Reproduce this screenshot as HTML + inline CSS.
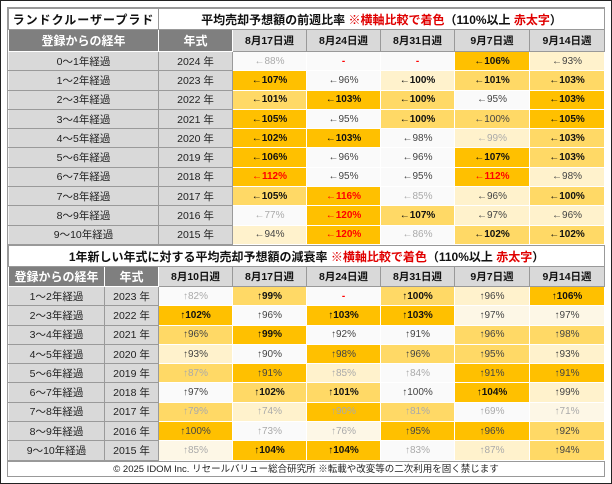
<!DOCTYPE html>
<html><head><meta charset="utf-8"><style>
*{box-sizing:border-box;margin:0;padding:0}
body{width:612px;height:484px;background:#fff;font-family:"Liberation Sans","Noto Sans CJK JP",sans-serif;position:relative;overflow:hidden}
.frame{position:absolute;left:0;top:0;width:612px;height:484px;border:1px solid #222}
.wrap{position:absolute;left:7px;top:7px;width:598px;height:470px;border:1px solid #999;background:#fff}
table{position:absolute;left:0;border-collapse:collapse;table-layout:fixed;width:596px}
td{border:1px solid #fff;text-align:center;vertical-align:middle;font-size:10px;white-space:nowrap;overflow:hidden;padding:0}
tr.r td{height:19.3px}
.lab{background:#d9d9d9;color:#222;font-size:10.5px;border-color:#f2f2f2 #9a9a9a #9a9a9a #f2f2f2}
.hd td.h{background:#7f7f7f;color:#fff;font-weight:bold;font-size:12px}
.hd td.dt{background:#d9d9d9;color:#111;font-weight:bold;font-size:10.5px;border:1px solid #999}
.tl{font-weight:bold;font-size:12px;color:#111;border:1px solid #999!important;background:#fff}
.red{color:#e00000}
.d{background:#ffc000}.m{background:#ffd966}.l{background:#fff2cc}.v{background:#fdf7e6}.w{background:#fafafa}
.b{font-weight:bold;color:#111}.n{color:#444}.g{color:#aaa}.x{font-weight:bold;color:#f00}
.foot{position:absolute;left:0;top:453px;width:596px;height:16px;border-top:1px solid #999;font-size:9.5px;color:#222;text-align:center;line-height:15px}
</style></head><body>
<div class="frame"></div>
<div class="wrap">
<table style="top:0">
<colgroup><col style="width:150px"><col style="width:74px"><col style="width:74px"><col style="width:74px"><col style="width:74px"><col style="width:75px"><col style="width:75px"></colgroup>
<tr><td class="tl" style="height:21px;letter-spacing:1px">ランドクルーザープラド</td><td class="tl" colspan="6" style="height:21px">平均売却予想額の前週比率 <span class="red">※横軸比較で着色</span>（110%以上 <span class="red">赤太字</span>）</td></tr>
<tr class="hd"><td class="h" style="height:22px">登録からの経年</td><td class="h">年式</td><td class="dt">8月17日週</td><td class="dt">8月24日週</td><td class="dt">8月31日週</td><td class="dt">9月7日週</td><td class="dt">9月14日週</td></tr>
<tr class="r"><td class="lab">0～1年経過</td><td class="lab">2024 年</td><td class="w g">←88%</td><td class="w x">-</td><td class="w x">-</td><td class="d b">←106%</td><td class="l n">←93%</td></tr>
<tr class="r"><td class="lab">1～2年経過</td><td class="lab">2023 年</td><td class="d b">←107%</td><td class="w n">←96%</td><td class="l b">←100%</td><td class="m b">←101%</td><td class="m b">←103%</td></tr>
<tr class="r"><td class="lab">2～3年経過</td><td class="lab">2022 年</td><td class="m b">←101%</td><td class="d b">←103%</td><td class="m b">←100%</td><td class="w n">←95%</td><td class="d b">←103%</td></tr>
<tr class="r"><td class="lab">3～4年経過</td><td class="lab">2021 年</td><td class="d b">←105%</td><td class="w n">←95%</td><td class="m b">←100%</td><td class="m n">←100%</td><td class="d b">←105%</td></tr>
<tr class="r"><td class="lab">4～5年経過</td><td class="lab">2020 年</td><td class="d b">←102%</td><td class="d b">←103%</td><td class="w n">←98%</td><td class="l g">←99%</td><td class="m b">←103%</td></tr>
<tr class="r"><td class="lab">5～6年経過</td><td class="lab">2019 年</td><td class="d b">←106%</td><td class="w n">←96%</td><td class="w n">←96%</td><td class="d b">←107%</td><td class="m b">←103%</td></tr>
<tr class="r"><td class="lab">6～7年経過</td><td class="lab">2018 年</td><td class="d x">←112%</td><td class="w n">←95%</td><td class="w n">←95%</td><td class="d x">←112%</td><td class="l n">←98%</td></tr>
<tr class="r"><td class="lab">7～8年経過</td><td class="lab">2017 年</td><td class="m b">←105%</td><td class="d x">←116%</td><td class="w g">←85%</td><td class="l n">←96%</td><td class="m b">←100%</td></tr>
<tr class="r"><td class="lab">8～9年経過</td><td class="lab">2016 年</td><td class="w g">←77%</td><td class="d x">←120%</td><td class="m b">←107%</td><td class="l n">←97%</td><td class="l n">←96%</td></tr>
<tr class="r"><td class="lab">9～10年経過</td><td class="lab">2015 年</td><td class="l n">←94%</td><td class="d x">←120%</td><td class="w g">←86%</td><td class="m b">←102%</td><td class="m b">←102%</td></tr>
</table>
<table style="top:237px">
<colgroup><col style="width:96px"><col style="width:54px"><col style="width:74px"><col style="width:74px"><col style="width:74px"><col style="width:74px"><col style="width:75px"><col style="width:75px"></colgroup>
<tr><td class="tl" colspan="8" style="height:21px">1年新しい年式に対する平均売却予想額の減衰率 <span class="red">※横軸比較で着色</span>（110%以上 <span class="red">赤太字</span>）</td></tr>
<tr class="hd"><td class="h" style="height:20px">登録からの経年</td><td class="h">年式</td><td class="dt">8月10日週</td><td class="dt">8月17日週</td><td class="dt">8月24日週</td><td class="dt">8月31日週</td><td class="dt">9月7日週</td><td class="dt">9月14日週</td></tr>
<tr class="r"><td class="lab">1～2年経過</td><td class="lab">2023 年</td><td class="w g">↑82%</td><td class="m b">↑99%</td><td class="w x">-</td><td class="m b">↑100%</td><td class="l n">↑96%</td><td class="d b">↑106%</td></tr>
<tr class="r"><td class="lab">2～3年経過</td><td class="lab">2022 年</td><td class="d b">↑102%</td><td class="w n">↑96%</td><td class="d b">↑103%</td><td class="d b">↑103%</td><td class="v n">↑97%</td><td class="v n">↑97%</td></tr>
<tr class="r"><td class="lab">3～4年経過</td><td class="lab">2021 年</td><td class="m n">↑96%</td><td class="d b">↑99%</td><td class="w n">↑92%</td><td class="w n">↑91%</td><td class="m n">↑96%</td><td class="m n">↑98%</td></tr>
<tr class="r"><td class="lab">4～5年経過</td><td class="lab">2020 年</td><td class="l n">↑93%</td><td class="w n">↑90%</td><td class="d n">↑98%</td><td class="m n">↑96%</td><td class="m n">↑95%</td><td class="l n">↑93%</td></tr>
<tr class="r"><td class="lab">5～6年経過</td><td class="lab">2019 年</td><td class="m g">↑87%</td><td class="d n">↑91%</td><td class="l g">↑85%</td><td class="w g">↑84%</td><td class="d n">↑91%</td><td class="d n">↑91%</td></tr>
<tr class="r"><td class="lab">6～7年経過</td><td class="lab">2018 年</td><td class="w n">↑97%</td><td class="m b">↑102%</td><td class="m b">↑101%</td><td class="w n">↑100%</td><td class="d b">↑104%</td><td class="l n">↑99%</td></tr>
<tr class="r"><td class="lab">7～8年経過</td><td class="lab">2017 年</td><td class="m g">↑79%</td><td class="l g">↑74%</td><td class="d g">↑90%</td><td class="m g">↑81%</td><td class="w g">↑69%</td><td class="v g">↑71%</td></tr>
<tr class="r"><td class="lab">8～9年経過</td><td class="lab">2016 年</td><td class="d n">↑100%</td><td class="w g">↑73%</td><td class="v g">↑76%</td><td class="d n">↑95%</td><td class="d n">↑96%</td><td class="m n">↑92%</td></tr>
<tr class="r"><td class="lab">9～10年経過</td><td class="lab">2015 年</td><td class="v g">↑85%</td><td class="d b">↑104%</td><td class="d b">↑104%</td><td class="w g">↑83%</td><td class="l g">↑87%</td><td class="m n">↑94%</td></tr>
</table>
<div class="foot">© 2025 IDOM Inc. リセールバリュー総合研究所 ※転載や改変等の二次利用を固く禁じます</div>
</div>
</body></html>
